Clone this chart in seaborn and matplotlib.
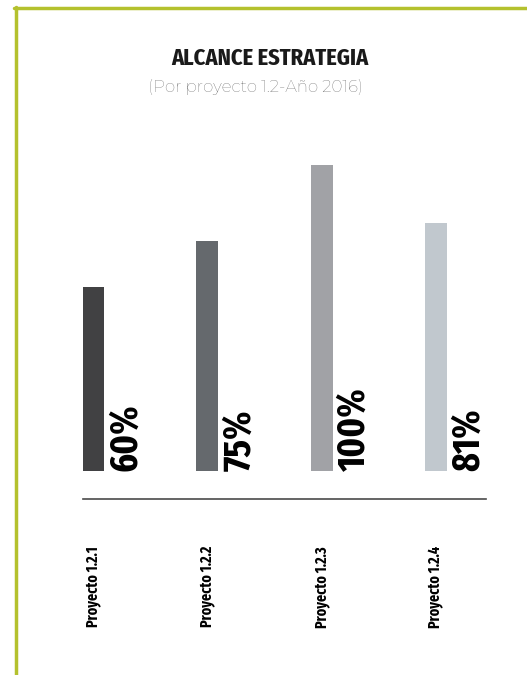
import matplotlib
matplotlib.use("Agg")
import matplotlib.pyplot as plt
from matplotlib.lines import Line2D
import seaborn as sns
import pandas as pd

# datos
proyectos = ["Proyecto 1.2.1", "Proyecto 1.2.2", "Proyecto 1.2.3", "Proyecto 1.2.4"]
alcance = [60, 75, 100, 81]
etiquetas = ["60%", "75%", "100%", "81%"]
colores = ["#414143", "#65696d", "#a1a2a6", "#c1c8ce"]

df = pd.DataFrame({"proyecto": proyectos, "alcance": alcance})

sns.set_style("white")
condensada = ["Fira Sans Extra Condensed", "Fira Sans Condensed", "DejaVu Sans"]
plt.rcParams["font.family"] = condensada

W, H = 527, 675
fig = plt.figure(figsize=(W / 100, H / 100), dpi=100)
ax = fig.add_axes([83 / W, (H - 499) / H, (486 - 83) / W, (499 - 150) / H])

bar_w = 0.19
sns.barplot(data=df, x="proyecto", y="alcance", hue="proyecto",
            palette=colores, width=bar_w, legend=False, ax=ax,
            saturation=1, linewidth=0)

ax.set_xlim(-0.0875, 3.437)
ax.set_ylim(-9.15, 104.9)

# etiquetas de valor (verticales, junto a cada barra)
for i, t in enumerate(etiquetas):
    ax.annotate(t, xy=(i + bar_w / 2, 0), xytext=(2.5, 0),
                textcoords="offset points", rotation=90,
                ha="left", va="bottom", fontsize=28, fontweight="bold",
                color="black")

for s in ["top", "left", "right"]:
    ax.spines[s].set_visible(False)
ax.spines["bottom"].set_color("#4a4a4a")
ax.spines["bottom"].set_linewidth(1.2)
ax.set_yticks([])
ax.set_xlabel("")
ax.set_ylabel("")
ax.tick_params(axis="x", length=0, pad=34)
ax.set_xticks(range(len(proyectos)))
ax.set_xticklabels(proyectos, rotation=90, fontsize=11, fontweight="bold",
                   va="top", ha="center", color="black")

# titulo
fig.text(270 / W, 1 - 58 / H, "ALCANCE ESTRATEGIA", ha="center", va="center",
         fontsize=17.5, fontweight="bold", color="#1a1a1a")
fig.text(255 / W, 1 - 87 / H, "(Por proyecto 1.2-Año 2016)", ha="center",
         va="center", fontsize=12, color="#5c5c5c",
         family=["Montserrat", "Lato", "DejaVu Sans"], fontweight=300)

# marco verde
verde = "#b4c12e"
fig.add_artist(Line2D([15.5 / W, 15.5 / W], [0, 1 - 7 / H], color=verde,
                      lw=2.5, transform=fig.transFigure))
fig.add_artist(Line2D([14 / W, 1], [1 - 8 / H, 1 - 8 / H], color=verde,
                      lw=2.5, transform=fig.transFigure))

fig.savefig("out.png", dpi=100)
